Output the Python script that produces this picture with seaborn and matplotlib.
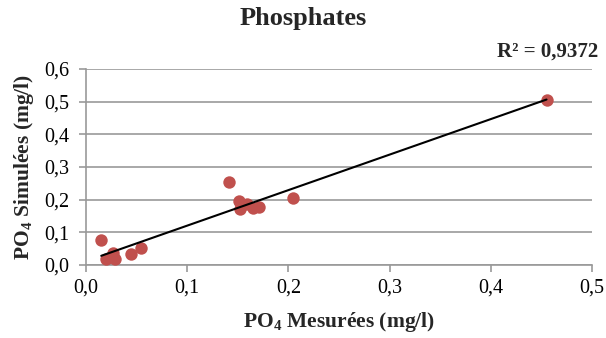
import numpy as np
import pandas as pd
import matplotlib
matplotlib.use("Agg")
import matplotlib.pyplot as plt
import seaborn as sns

po4_mesure = [0.015, 0.020, 0.027, 0.029, 0.044, 0.054,
              0.141, 0.151, 0.152, 0.159, 0.165, 0.171, 0.204, 0.455]
po4_simule = [0.078, 0.018, 0.037, 0.018, 0.034, 0.052,
              0.255, 0.195, 0.171, 0.187, 0.175, 0.177, 0.206, 0.505]
x_ticks = [0.0, 0.1, 0.2, 0.3, 0.4, 0.5]
y_ticks = [0.0, 0.1, 0.2, 0.3, 0.4, 0.5, 0.6]
r2_label = "R² = 0,9372"

df = pd.DataFrame({"mesure": po4_mesure, "simule": po4_simule})

sns.set_theme(style="white")
plt.rcParams['font.family'] = ['Liberation Serif', 'DejaVu Serif']
plt.rcParams['mathtext.default'] = 'regular'

fig = plt.figure(figsize=(6.06, 3.38), dpi=100)
ax = fig.add_axes([0.142, 0.216, 0.835, 0.580])

sns.regplot(data=df, x="mesure", y="simule", ax=ax, ci=None,
            scatter_kws=dict(color="#C0504D", s=80, alpha=1, linewidths=0, zorder=3),
            line_kws=dict(color="black", lw=1.5, zorder=4))

ax.set_xlim(0, 0.5)
ax.set_ylim(0, 0.6)
ax.set_xticks(x_ticks)
ax.set_yticks(y_ticks)
ax.set_xticklabels([f"{v:.1f}".replace(".", ",") for v in x_ticks], fontsize=14.5)
ax.set_yticklabels([f"{v:.1f}".replace(".", ",") for v in y_ticks], fontsize=14.5)

ax.yaxis.grid(True, color="#999999", lw=1.2)
ax.xaxis.grid(False)
ax.set_axisbelow(True)
for s in ["top", "right"]:
    ax.spines[s].set_visible(False)
for s in ["left", "bottom"]:
    ax.spines[s].set_color("#999999")
    ax.spines[s].set_linewidth(1.2)
ax.tick_params(axis="both", direction="out", length=5, width=1.2,
               color="#999999", labelcolor="black")
ax.tick_params(axis="x", bottom=True, pad=5)
ax.tick_params(axis="y", left=True, pad=7)

ax.set_xlabel("PO$_4$ Mesurées (mg/l)", fontsize=15.5, fontweight="bold")
ax.set_ylabel("PO$_4$ Simulées (mg/l)", fontsize=15.5, fontweight="bold")
ax.xaxis.set_label_coords(0.5, -0.29)
ax.xaxis.label.set_va("center")
ax.yaxis.set_label_coords(-0.122, 0.5)
ax.yaxis.label.set_va("center")
fig.text(0.5, 0.945, "Phosphates", ha="center", va="center",
         fontsize=19, fontweight="bold")
fig.text(0.988, 0.848, r2_label, ha="right", va="center",
         fontsize=15, fontweight="bold")

fig.savefig("out.png", dpi=100)
